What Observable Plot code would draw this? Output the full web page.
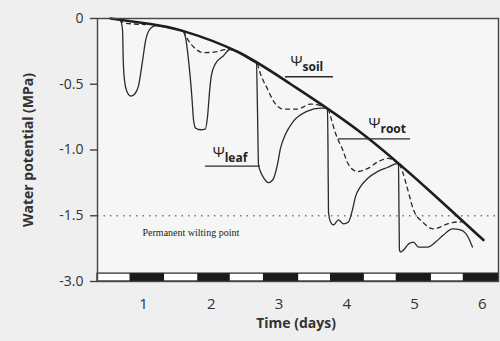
<!DOCTYPE html>
<html><head><meta charset="utf-8">
<script src="https://cdn.jsdelivr.net/npm/d3@7"></script>
<script src="https://cdn.jsdelivr.net/npm/@observablehq/plot@0.6"></script>
<style>
html,body{margin:0;padding:0;background:#efefef;}
#chart{width:500px;height:341px;}
</style></head><body><div id="chart"></div>
<script>
// Soil water potential (thick line)
const soilDay = [0.512, 1.102, 1.59, 2.387, 3.169, 4.202, 5.236, 6.018];
const soilPsi = [0, -0.042, -0.096, -0.253, -0.498, -0.865, -1.317, -1.685];

// Leaf water potential (thin solid line)
const leafDay = [0.63,0.66,0.69,0.70,0.72,0.75,0.81,0.87,0.925,0.985,1.03,1.10,1.18,
  1.40,1.545,
  1.575,1.62,1.665,1.71,1.74,1.77,1.84,1.91,1.945,1.975,2.00,2.06,2.18,2.28,2.39,
  2.505,2.64,
  2.667,2.682,2.697,2.726,2.771,2.844,2.918,2.977,3.021,3.095,3.213,3.42,3.61,3.686,
  3.715,3.723,3.73,3.76,3.804,3.878,3.952,4.025,4.084,4.129,4.202,4.306,4.453,4.60,4.749,
  4.763,4.771,4.778,4.793,4.837,4.911,4.985,5.059,5.192,5.31,5.428,5.561,5.679,5.782,5.856];
const leafPsi = [-0.004,-0.015,-0.09,-0.32,-0.475,-0.55,-0.59,-0.574,-0.513,-0.322,-0.168,-0.077,-0.054,
  -0.075,-0.088,
  -0.092,-0.145,-0.322,-0.574,-0.781,-0.835,-0.846,-0.842,-0.743,-0.551,-0.436,-0.345,-0.283,-0.234,-0.253,
  -0.29,-0.333,
  -0.34,-0.704,-1.11,-1.164,-1.21,-1.248,-1.217,-1.11,-0.988,-0.881,-0.781,-0.704,-0.681,-0.681,
  -0.689,-1.011,-1.47,-1.547,-1.57,-1.531,-1.562,-1.547,-1.455,-1.355,-1.279,-1.217,-1.164,-1.133,-1.103,
  -1.11,-1.47,-1.761,-1.776,-1.761,-1.715,-1.70,-1.738,-1.738,-1.70,-1.646,-1.60,-1.608,-1.654,-1.738];

// Root water potential (dashed, one segment per day)
const rootDay = [0.645,0.719,0.866,1.029,
  1.59,1.663,1.767,1.885,2.062,2.239,2.357,
  2.682,2.726,2.83,2.918,3.066,3.272,3.464,3.641,
  3.73,3.76,3.834,3.937,4.025,4.158,4.306,4.468,4.616,4.719,
  4.778,4.822,4.896,4.985,5.118,5.28,5.487,5.634,5.708];
const rootPsi = [-0.008,-0.034,-0.042,-0.046,
  -0.096,-0.168,-0.23,-0.26,-0.253,-0.234,-0.245,
  -0.345,-0.421,-0.536,-0.628,-0.689,-0.689,-0.651,-0.666,
  -0.689,-0.743,-0.873,-0.995,-1.11,-1.164,-1.141,-1.087,-1.064,-1.087,
  -1.11,-1.164,-1.294,-1.455,-1.547,-1.6,-1.562,-1.547,-1.547];
const rootSegment = [1,1,1,1, 2,2,2,2,2,2,2, 3,3,3,3,3,3,3,3, 4,4,4,4,4,4,4,4,4,4, 5,5,5,5,5,5,5,5,5];

// Night periods (black bar segments)
const nightStart = [0.80, 1.80, 2.77, 3.76, 4.73, 5.72];
const nightEnd   = [1.31, 2.28, 3.29, 4.26, 5.25, 6.24];

// Axis ticks
const xTicks = [1, 2, 3, 4, 5, 6];
const yTickValues = [0, -0.5, -1, -1.5, -2];
const yTickLabels = ["0", "-0.5", "-1.0", "-1.5", "-3.0"];

const wiltingPoint = -1.5;
const wiltingLabel = "Permanent wilting point";

// Ψ annotations
const psiNames = ["soil", "root", "leaf"];
const psiLabelDay = [3.17, 4.32, 2.02];
const psiLabelPsi = [-0.328, -0.794, -1.015];
const underlineStart = [3.095, 3.878, 1.914];
const underlineEnd = [3.804, 4.941, 2.726];
const underlinePsi = [-0.443, -0.916, -1.122];

const soil = soilDay.map((d, i) => ({d, psi: soilPsi[i]}));
const leaf = leafDay.map((d, i) => ({d, psi: leafPsi[i]}));
const root = rootDay.map((d, i) => ({d, psi: rootPsi[i], seg: rootSegment[i]}));
const nights = nightStart.map((s, i) => ({s, e: nightEnd[i]}));
const labels = psiNames.map((name, i) => ({name, d: psiLabelDay[i], psi: psiLabelPsi[i],
  d1: underlineStart[i], d2: underlineEnd[i], up: underlinePsi[i]}));

const ink = "#2a2a2a";

const chart = Plot.plot({
  width: 500,
  height: 341,
  marginLeft: 97,
  marginRight: 2,
  marginTop: 18,
  marginBottom: 60,
  style: {fontFamily: "'Open Sans', sans-serif", color: "#333", background: "transparent"},
  x: {domain: [0.32, 6.24]},
  y: {domain: [-2, 0]},
  marks: [
    Plot.frame({fill: "#f6f6f6", stroke: "none"}),
    Plot.ruleY([wiltingPoint], {stroke: "#777", strokeWidth: 1.4, strokeDasharray: "1.5,5"}),
    Plot.text([wiltingLabel], {x: 0.985, y: -1.626, textAnchor: "start", fontFamily: "'Liberation Serif', serif", fontSize: 10, fill: "#222"}),
    Plot.line(root, {x: "d", y: "psi", z: "seg", curve: "monotone-x", stroke: ink, strokeWidth: 1.3, strokeDasharray: "4,4"}),
    Plot.line(leaf, {x: "d", y: "psi", curve: "monotone-x", stroke: ink, strokeWidth: 1.3}),
    Plot.line(soil, {x: "d", y: "psi", curve: "natural", stroke: "#1e1e1e", strokeWidth: 2.6}),
    Plot.ruleY(labels, {y: "up", x1: "d1", x2: "d2", stroke: ink, strokeWidth: 1.3}),
    Plot.text(labels, {x: "d", y: "psi", text: () => "Ψ", textAnchor: "start", fontSize: 15, fill: "#222"}),
    Plot.text(labels, {x: "d", y: "psi", text: "name", dx: 12, dy: 6, textAnchor: "start", fontSize: 12, fontWeight: "bold", fill: "#222"}),
    Plot.rect([0], {x1: 0.32, x2: 6.24, y1: -2, y2: -1.94, fill: "white", stroke: "#222", strokeWidth: 1.2}),
    Plot.rect(nights, {x1: "s", x2: "e", y1: -2, y2: -1.94, fill: "#1a1a1a"}),
    Plot.frame({stroke: "#444", strokeWidth: 1.4}),
    Plot.axisY({ticks: yTickValues, tickFormat: (v) => yTickLabels[yTickValues.indexOf(v)], tickSize: 7, tickPadding: 7, fontSize: 14, label: null, stroke: "#444", strokeWidth: 1.4}),
    Plot.axisX({ticks: xTicks, tickFormat: (v) => String(v), tickSize: 0, tickPadding: 17, fontSize: 15, label: null}),
    Plot.text(["Water potential (MPa)"], {frameAnchor: "left", textAnchor: "middle", dx: -69, rotate: -90, fontWeight: "bold", fontSize: 14, fill: "#333"}),
    Plot.text(["Time (days)"], {frameAnchor: "bottom", textAnchor: "middle", dx: -2, dy: 46, fontWeight: "bold", fontSize: 14, fill: "#333"})
  ]
});
document.getElementById("chart").appendChild(chart);
</script>
</body></html>
